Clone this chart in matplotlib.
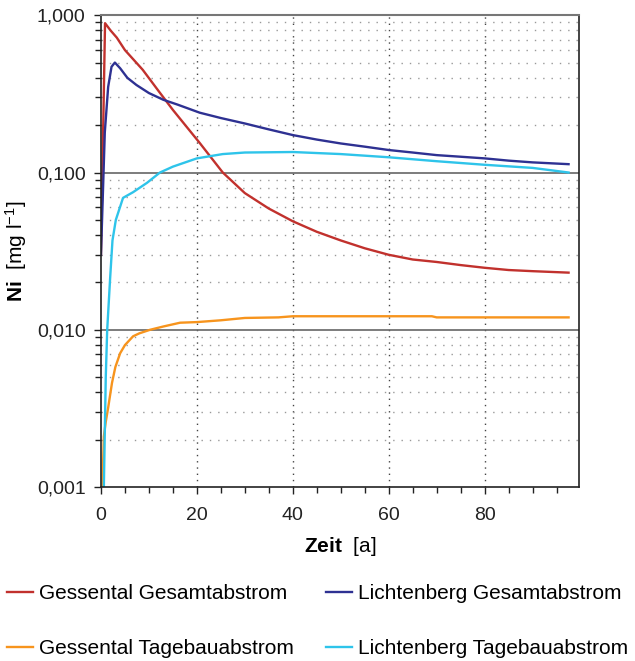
import numpy as np
import matplotlib.pyplot as plt
from matplotlib.ticker import FixedLocator, LogLocator, FuncFormatter, NullFormatter

plt.rcParams['font.family'] = ['Liberation Sans', 'DejaVu Sans']
plt.rcParams['mathtext.fontset'] = 'custom'
plt.rcParams['mathtext.rm'] = 'Liberation Sans'
plt.rcParams['mathtext.bf'] = 'Liberation Sans:bold'
plt.rcParams['mathtext.it'] = 'Liberation Sans:italic'

# Ni concentration [mg/l] over time [a]
t_gg = [0, 0.85, 2, 3.3, 5, 8.7, 12, 15, 20.6, 25.4, 30, 35, 40, 45, 50, 55, 60, 65, 70, 75, 80, 85, 90, 97.5]
ni_gg = [0.030, 0.89, 0.80, 0.72, 0.60, 0.45, 0.33, 0.25, 0.154, 0.100, 0.074, 0.059, 0.049, 0.042, 0.037, 0.033, 0.030, 0.028, 0.027, 0.0258, 0.0248, 0.0240, 0.0236, 0.0231]

t_lg = [0, 0.8, 1.5, 2.2, 2.9, 4, 5.5, 7.4, 10, 13, 16, 20.6, 25, 30, 35, 40, 45, 50, 55, 60, 65, 70, 75, 80, 85, 90, 97.5]
ni_lg = [0.030, 0.18, 0.35, 0.47, 0.50, 0.46, 0.40, 0.36, 0.32, 0.29, 0.27, 0.24, 0.222, 0.205, 0.188, 0.173, 0.162, 0.153, 0.146, 0.139, 0.134, 0.129, 0.126, 0.123, 0.119, 0.116, 0.113]

t_gt = [0.3, 0.6, 1.0, 1.5, 2.3, 3, 4.0, 5, 6.7, 8, 10.2, 13, 16.5, 20, 25, 30, 37, 40, 50, 60, 69, 70, 80, 90, 97.5]
ni_gt = [0.001, 0.0021, 0.0026, 0.0032, 0.0046, 0.0058, 0.0071, 0.0080, 0.0091, 0.0095, 0.0100, 0.0105, 0.0111, 0.0112, 0.0115, 0.0119, 0.0120, 0.0122, 0.0122, 0.0122, 0.0122, 0.0120, 0.0120, 0.0120, 0.0120]

t_lt = [0.6, 1.0, 1.3, 1.9, 2.4, 3.1, 4.6, 6.7, 9.6, 12.3, 15, 20, 25.4, 30, 40, 50, 60, 70, 80, 90, 97.5]
ni_lt = [0.001, 0.005, 0.010, 0.021, 0.037, 0.050, 0.069, 0.075, 0.086, 0.100, 0.109, 0.123, 0.131, 0.134, 0.135, 0.131, 0.125, 0.118, 0.112, 0.107, 0.100]

fig = plt.figure(figsize=(6.35, 6.61), dpi=100)
ax = fig.add_axes([0.159, 0.263, 0.753, 0.714])

l_gg, = ax.plot(t_gg, ni_gg, color='#c1312d', lw=1.7, label='Gessental Gesamtabstrom')
l_lg, = ax.plot(t_lg, ni_lg, color='#2e3192', lw=1.7, label='Lichtenberg Gesamtabstrom')
l_gt, = ax.plot(t_gt, ni_gt, color='#f7941d', lw=1.7, label='Gessental Tagebauabstrom')
l_lt, = ax.plot(t_lt, ni_lt, color='#2ec4ea', lw=1.7, label='Lichtenberg Tagebauabstrom')

ax.set_yscale('log')
ax.set_ylim(0.001, 1.0)
ax.set_xlim(0, 99.7)

ax.yaxis.set_major_locator(FixedLocator([0.001, 0.01, 0.1, 1.0]))
ax.yaxis.set_major_formatter(FuncFormatter(lambda v, p: f"{v:.3f}".replace('.', ',')))
ax.yaxis.set_minor_locator(LogLocator(base=10, subs=np.arange(2, 10)))
ax.yaxis.set_minor_formatter(NullFormatter())

ax.xaxis.set_major_locator(FixedLocator([0, 20, 40, 60, 80]))
ax.xaxis.set_minor_locator(FixedLocator(np.arange(0, 100, 5)))

# grid: solid lines at decades, dotted at minor values, dotted verticals
for v in [0.01, 0.1]:
    ax.axhline(v, color='#666666', lw=1.2, zorder=1)
ax.grid(True, which='minor', axis='y', color='#999999', lw=1.0, linestyle=(0, (1, 5)), zorder=0)
for x in [20, 40, 60, 80]:
    ax.axvline(x, color='#444444', lw=1.0, linestyle=(0, (1, 3.5)), zorder=0)

for s in ax.spines.values():
    s.set_color('#222222')
    s.set_linewidth(1.2)
ax.spines['top'].set_color('#777777')
ax.spines['top'].set_linewidth(1.5)

ax.tick_params(axis='both', which='major', direction='out', length=5, width=1, labelsize=14, colors='#222222', pad=6)
ax.tick_params(axis='both', which='minor', direction='out', length=4, width=1, colors='#222222')
ax.tick_params(axis='x', which='major', pad=9)

ax.set_xlabel(r'$\bf{Zeit}$  [a]', fontsize=15, labelpad=8)
ax.set_ylabel(r'$\bf{Ni}$  [mg l$^{-1}$]', fontsize=15, labelpad=6)

fig.legend(handles=[l_gg, l_gt, l_lg, l_lt], loc='lower left', bbox_to_anchor=(0.0105, 0.004),
           ncol=2, frameon=False, fontsize=15, handlelength=1.28, handletextpad=0.29,
           columnspacing=1.5, labelspacing=1.75, borderpad=0, borderaxespad=0)

fig.savefig('out.png', dpi=100)
